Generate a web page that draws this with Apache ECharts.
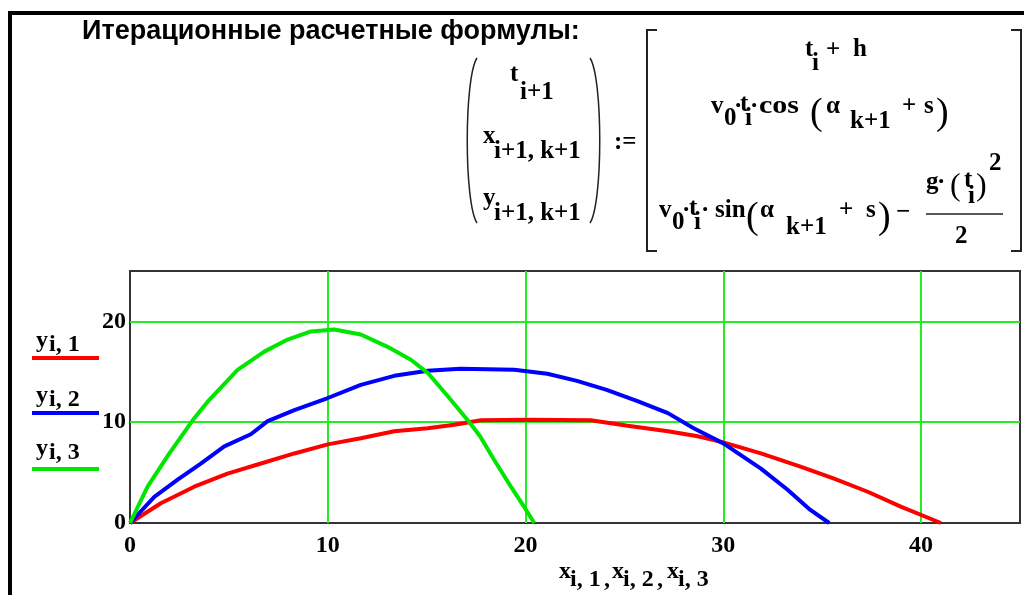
<!DOCTYPE html>
<html>
<head>
<meta charset="utf-8">
<script src="https://cdn.jsdelivr.net/npm/echarts@6/dist/echarts.min.js"></script>
<style>
    html, body { margin: 0; padding: 0; background: #fff; }
    #chart { width: 1024px; height: 595px; }
</style>
</head>
<body>
<div id="chart"></div>
<script>
// траектории
var x1 = [0, 1.56, 3.25, 4.93, 6.62, 8.31, 10.0, 11.67, 13.36, 15.05, 16.4, 17.74, 20.1, 23.3, 25.16, 27.2, 28.7, 30.0, 31.9, 33.9, 35.6, 37.3, 39.0, 41.0];
var y1 = [0, 1.96, 3.6, 4.9, 5.9, 6.9, 7.8, 8.4, 9.1, 9.4, 9.75, 10.2, 10.25, 10.2, 9.65, 9.1, 8.6, 8.0, 6.9, 5.6, 4.4, 3.1, 1.6, 0];
var x2 = [0, 1.23, 2.41, 3.58, 4.77, 6.11, 6.96, 8.31, 10.0, 11.67, 13.36, 15.05, 16.7, 19.43, 21.1, 22.6, 24.1, 25.66, 27.2, 28.5, 30.0, 31.9, 33.25, 34.4, 35.35];
var y2 = [0, 2.6, 4.3, 5.9, 7.6, 8.8, 10.1, 11.2, 12.4, 13.7, 14.6, 15.1, 15.3, 15.2, 14.8, 14.1, 13.2, 12.1, 10.9, 9.4, 7.9, 5.4, 3.3, 1.3, 0];
var x3 = [0, 0.89, 1.99, 3.25, 4.0, 5.44, 6.79, 7.97, 9.15, 10.33, 11.67, 13.0, 14.2, 15.05, 16.06, 17.2, 17.7, 18.4, 19.26, 19.93, 20.44];
var y3 = [0, 3.6, 6.9, 10.4, 12.2, 15.2, 17.0, 18.2, 19.0, 19.2, 18.7, 17.5, 16.2, 14.9, 12.6, 9.9, 8.6, 6.3, 3.6, 1.6, 0];
var seriesNames = ['y i,1', 'y i,2', 'y i,3'];
var seriesColors = ['#ff0000', '#0000ff', '#00e600'];

function zip(xs, ys) {
    var out = [];
    for (var i = 0; i < xs.length; i++) out.push([xs[i], ys[i]]);
    return out;
}

var SERIF = '"Liberation Serif", "Times New Roman", serif';
var FS = 25; // формулы
function tok(s, x, y, size, weight) {
    return {
        type: 'text', x: x, y: y, z: 10,
        style: {
            text: s, fill: '#000',
            font: (weight || 'bold') + ' ' + (size || FS) + 'px ' + SERIF,
            textAlign: 'left', textVerticalAlign: 'middle',
            align: 'left', verticalAlign: 'middle'
        }
    };
}
function big(s, x, y, size) { return tok(s, x, y, size || 38, 'normal'); }
function line(pts, w, color) {
    return { type: 'polyline', z: 10, shape: { points: pts }, style: { stroke: color || '#222', lineWidth: w || 2, fill: null } };
}

var g = [];
// рамка листа
g.push(line([[10, 595], [10, 13], [1024, 13]], 4, '#000'));
// заголовок
g.push({
    type: 'text', x: 82, y: 32, z: 10,
    style: { text: 'Итерационные расчетные формулы:', fill: '#000',
        font: 'bold 27px "Liberation Sans", Arial, sans-serif',
        textVerticalAlign: 'middle', verticalAlign: 'middle' }
});
// левый вектор
g.push({ type: 'bezierCurve', z: 10, shape: { x1: 477, y1: 58, cpx1: 464, cpy1: 78, cpx2: 464, cpy2: 203, x2: 477, y2: 223 }, style: { stroke: '#222', lineWidth: 1.5, fill: null } });
g.push({ type: 'bezierCurve', z: 10, shape: { x1: 590, y1: 58, cpx1: 603, cpy1: 78, cpx2: 603, cpy2: 203, x2: 590, y2: 223 }, style: { stroke: '#222', lineWidth: 1.5, fill: null } });
g.push(tok('t', 510, 75), tok('i+1', 520, 93));
g.push(tok('x', 483, 137), tok('i+1, k+1', 494, 152));
g.push(tok('y', 483, 199), tok('i+1, k+1', 494, 214));
g.push(tok(':=', 614, 143));
// скобки матрицы
g.push(line([[657, 30], [647, 30], [647, 251], [657, 251]], 2));
g.push(line([[1011, 30], [1021, 30], [1021, 251], [1011, 251]], 2));
// строка 1
g.push(tok('t', 805, 50), tok('i', 812, 64), tok('+', 826, 51), tok('h', 853, 50));
// строка 2
var cosTok = tok('cos', 759, 107);
cosTok.scaleX = 1.2;
g.push(tok('v', 711, 107), tok('0', 724, 119), tok('·', 734, 107), tok('t', 740, 105), tok('i', 745, 119),
    tok('·', 750, 107), cosTok,
    big('(', 810, 114), tok('α', 826, 107), tok('k+1', 850, 122),
    tok('+', 902, 107), tok('s', 924, 107), big(')', 936, 114));
// строка 3
g.push(tok('v', 659, 211), tok('0', 672, 223), tok('·', 682, 211), tok('t', 689, 209), tok('i', 694, 223),
    tok('·', 701, 211), tok('sin', 715, 211), big('(', 746, 218), tok('α', 760, 211), tok('k+1', 786, 228),
    tok('+', 839, 211), tok('s', 866, 211), big(')', 878, 218), tok('−', 896, 213));
g.push(tok('g', 926, 183), tok('·', 937, 183), big('(', 950, 187, 32), tok('t', 964, 181), tok('i', 968, 197),
    big(')', 976, 187, 32), tok('2', 989, 164));
g.push(line([[926, 214], [1003, 214]], 1.5));
g.push(tok('2', 955, 237));
// легенда
var legY = [341, 396, 449];
var lineY = [358, 413, 469];
for (var k = 0; k < 3; k++) {
    g.push(tok('y', 36, legY[k], 24), tok('i, ' + (k + 1), 49, legY[k] + 4, 24));
    g.push(line([[32, lineY[k]], [99, lineY[k]]], 4, seriesColors[k]));
}
// подпись оси X
var axX = [559, 612, 667];
for (var k = 0; k < 3; k++) {
    g.push(tok('x', axX[k], 572, 24), tok('i, ' + (k + 1), axX[k] + 11, 580, 24));
    if (k < 2) g.push(tok(',', axX[k] + 45, 580, 24));
}

var myChart = echarts.init(document.getElementById('chart'));
var option = {
    animation: false,
    grid: { left: 130, right: 4, top: 271, bottom: 72, show: true, borderColor: '#333', borderWidth: 2, backgroundColor: '#fff' },
    xAxis: {
        type: 'value', min: 0, max: 45, interval: 10,
        axisLine: { show: false },
        axisTick: { show: false },
        axisLabel: { showMaxLabel: false, margin: 11, color: '#000', fontFamily: SERIF, fontWeight: 'bold', fontSize: 24 },
        splitLine: { showMinLine: false, showMaxLine: false, lineStyle: { color: '#22ee22', width: 2 } }
    },
    yAxis: {
        type: 'value', min: 0, max: 25, interval: 10,
        axisLine: { show: false },
        axisTick: { show: false },
        axisLabel: { showMaxLabel: false, margin: 4, padding: [7, 0, 0, 0], color: '#000', fontFamily: SERIF, fontWeight: 'bold', fontSize: 24 },
        splitLine: { showMinLine: false, showMaxLine: false, lineStyle: { color: '#22ee22', width: 2 } }
    },
    series: [
        { name: seriesNames[0], type: 'line', data: zip(x1, y1), showSymbol: false, lineStyle: { color: seriesColors[0], width: 4 }, itemStyle: { color: seriesColors[0] } },
        { name: seriesNames[1], type: 'line', data: zip(x2, y2), showSymbol: false, lineStyle: { color: seriesColors[1], width: 4 }, itemStyle: { color: seriesColors[1] } },
        { name: seriesNames[2], type: 'line', data: zip(x3, y3), showSymbol: false, lineStyle: { color: seriesColors[2], width: 4 }, itemStyle: { color: seriesColors[2] } }
    ],
    graphic: g
};
myChart.setOption(option);
</script>
</body>
</html>
